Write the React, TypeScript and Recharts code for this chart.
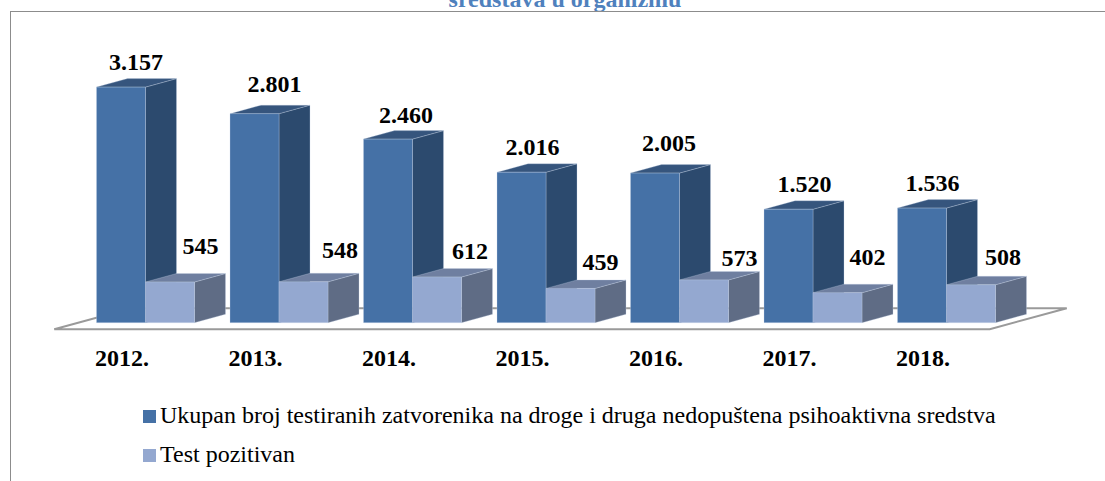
import { BarChart, Bar, XAxis, YAxis, Legend, LabelList, usePlotArea } from "recharts";

const years = ["2012.", "2013.", "2014.", "2015.", "2016.", "2017.", "2018."];
const tested = [3157, 2801, 2460, 2016, 2005, 1520, 1536];
const positive = [545, 548, 612, 459, 573, 402, 508];

const testedName = "Ukupan broj testiranih zatvorenika na droge i druga nedopuštena psihoaktivna sredstva";
const positiveName = "Test pozitivan";

// the labels in the picture were placed by hand, so each one has its own nudge
const testedLabelLift = [25, 30, 24, 25, 30, 25, 25];
const positiveLabelLift = [36, 32, 26, 26, 22, 36, 28];
const testedLabelShift = [15, 20, 18, 11, 14, 16, 10.5];
const positiveLabelShift = [30.5, 36.5, 33, 30, 35.5, 30, 32];

const data = years.map((year, i) => ({ year, tested: tested[i], positive: positive[i] }));

const DX = 31;
const DY = 8.5;
const FONT = "'Liberation Serif', serif";

function Box(props: any) {
  const { x, y, width, height, fill, side, top } = props;
  const r = x + width;
  const b = y + height;
  return (
    <g stroke="#c5d3e6" strokeWidth={0.3} strokeLinejoin="round">
      <polygon points={`${r},${y} ${r + DX},${y - DY} ${r + DX},${b - DY} ${r},${b}`} fill={side} />
      <polygon points={`${x},${y} ${x + DX},${y - DY} ${r + DX},${y - DY} ${r},${y}`} fill={top} />
      <rect x={x} y={y} width={width} height={height} fill={fill} />
    </g>
  );
}

function Floor() {
  const plot = usePlotArea();
  if (!plot) return null;
  const base = plot.y + plot.height;
  const left = plot.x - 24;
  const right = plot.x + plot.width - 23;
  const front = base + 6.5;
  const back = base - 14.5;
  return (
    <polygon
      points={`${left},${front} ${right},${front} ${right + 77},${back} ${left + 77},${back}`}
      fill="#fff"
      stroke="#9a9a9a"
      strokeWidth={2}
    />
  );
}

function YearTick(props: any) {
  const { x, y, payload } = props;
  return (
    <text x={x - 23} y={y + 37} textAnchor="middle" fontFamily={FONT} fontWeight="bold" fontSize={24} fill="#000">
      {payload.value}
    </text>
  );
}

function makeLabel(lifts: number[], shifts: number[]) {
  return function BarLabel(props: any) {
    const { x, y, width, value, index } = props;
    return (
      <text
        x={x + width / 2 + shifts[index]}
        y={y - lifts[index] + 8}
        textAnchor="middle"
        fontFamily={FONT}
        fontWeight="bold"
        fontSize={24}
        fill="#000"
      >
        {value >= 1000 ? String(value).replace(/(\d)(\d{3})$/, "$1.$2") : value}
      </text>
    );
  };
}

function LegendBlock(props: any) {
  return (
    <div style={{ fontFamily: FONT, fontSize: 24, color: "#000", lineHeight: "39px", whiteSpace: "nowrap" }}>
      {props.payload.map((item: any) => (
        <div key={item.value}>
          <span
            style={{
              display: "inline-block",
              width: 13,
              height: 13,
              background: item.color,
              marginRight: 4,
            }}
          />
          {item.value}
        </div>
      ))}
    </div>
  );
}

export default function App() {
  return (
    <div style={{ position: "absolute", left: 0, top: 0, width: 1105, height: 481, overflow: "hidden", background: "#fff" }}>
      <div
        style={{
          position: "absolute",
          left: 0,
          width: 1130,
          top: -14,
          textAlign: "center",
          fontFamily: FONT,
          fontWeight: "bold",
          fontSize: 24,
          color: "#4f81bd",
        }}
      >
        sredstava u organizmu
      </div>
      <div
        style={{
          position: "absolute",
          left: 10,
          top: 11,
          width: 1200,
          height: 600,
          border: "1.5px solid #8c8c8c",
          boxSizing: "border-box",
        }}
      />
      <div style={{ position: "absolute", left: 0, top: 0 }}>
        <BarChart
          width={1105}
          height={481}
          data={data}
          barCategoryGap={18.25}
          barGap={0}
          margin={{ top: 61.5, right: 92.25, bottom: 118.3, left: 78.25 }}
        >
          <Floor />
          <YAxis hide domain={[0, 3500]} />
          <XAxis dataKey="year" axisLine={false} tickLine={false} height={40} tick={<YearTick />} tickMargin={0} interval={0} />
          <Legend
            layout="horizontal"
            verticalAlign="middle"
            align="center"
            itemSorter={null}
            wrapperStyle={{ left: 143, top: 396, width: "auto" }}
            content={<LegendBlock />}
          />
          <Bar
            dataKey="tested"
            name={testedName}
            fill="#4571a6"
            isAnimationActive={false}
            shape={<Box side="#2c4a6e" top="#36557d" />}
          >
            <LabelList dataKey="tested" content={makeLabel(testedLabelLift, testedLabelShift)} />
          </Bar>
          <Bar
            dataKey="positive"
            name={positiveName}
            fill="#94a8d0"
            isAnimationActive={false}
            shape={<Box side="#5f6c85" top="#6f7fa0" />}
          >
            <LabelList dataKey="positive" content={makeLabel(positiveLabelLift, positiveLabelShift)} />
          </Bar>
        </BarChart>
      </div>
    </div>
  );
}
